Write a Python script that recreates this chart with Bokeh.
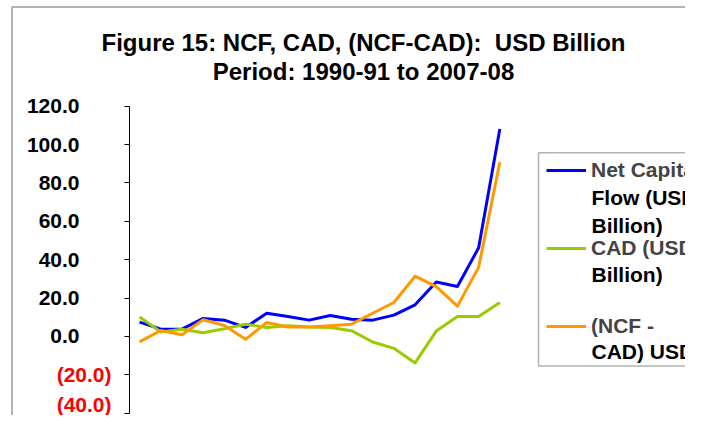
from bokeh.plotting import figure
from bokeh.models import (Range1d, FixedTicker, Label, LinearAxis,
                          Legend, LegendItem, BoxAnnotation)
from bokeh.embed import file_html
from bokeh.resources import INLINE

years = ["1990-91", "1991-92", "1992-93", "1993-94", "1994-95", "1995-96",
         "1996-97", "1997-98", "1998-99", "1999-00", "2000-01", "2001-02",
         "2002-03", "2003-04", "2004-05", "2005-06", "2006-07", "2007-08"]
ncf = [7.5, 3.8, 3.8, 9.4, 8.5, 4.7, 12.1, 10.4, 8.5, 10.9, 9.0, 8.5,
       11.1, 16.5, 28.4, 26.0, 46.2, 108.1]
cad = [10.2, 2.3, 3.8, 1.9, 4.0, 6.4, 4.7, 5.6, 4.9, 4.7, 3.0, -2.9,
       -6.2, -13.8, 2.8, 10.4, 10.4, 17.7]
ncf_minus_cad = [-2.8, 3.1, 0.9, 8.7, 5.7, -1.5, 7.3, 4.9, 4.9, 5.6, 6.4, 12.1,
                 17.7, 31.4, 26.0, 15.8, 36.0, 90.8]
pos_ticks = [0, 20, 40, 60, 80, 100, 120]
neg_ticks = [-40, -20]
neg_tick_labels = ["(40.0)", "(20.0)"]
title_lines = ["Figure 15: NCF, CAD, (NCF-CAD): \u00a0USD Billion",
               "Period: 1990-91 to 2007-08"]
series_first = ["Net Capital", "CAD (USD", "(NCF -"]
series_more = ["Flow (USD", "Billion)", "Billion)", "CAD) USD"]

FONT = "Liberation Sans"
W, H = 685, 415
PX_LEFT, PX_STEP = 128.5, 21.19
PY_TOP, PY_BOT = 105.7, 412.7
Y_MIN, Y_MAX = -40, 120
ypx = (PY_BOT - PY_TOP) / (Y_MAX - Y_MIN)

xs = list(range(len(years)))
x_start = -0.5 - PX_LEFT / PX_STEP
x_end = -0.5 + (W - PX_LEFT) / PX_STEP
y_start = Y_MIN - (H - PY_BOT) / ypx
y_end = Y_MAX + PY_TOP / ypx

p = figure(width=W, height=H,
           x_range=Range1d(x_start, x_end), y_range=Range1d(y_start, y_end),
           x_axis_location=None, y_axis_location=None,
           output_backend="svg", toolbar_location=None,
           min_border=0, min_border_left=0, min_border_right=0,
           min_border_top=0, min_border_bottom=0)
p.outline_line_color = None
p.grid.visible = False


def style_axis(a, standoff, color):
    a.major_tick_out = 5
    a.major_tick_in = 0
    a.minor_tick_line_color = None
    a.major_label_standoff = standoff
    a.major_label_text_font = FONT
    a.major_label_text_font_style = "bold"
    a.major_label_text_font_size = "21px"
    a.major_label_text_color = color


ax = LinearAxis(fixed_location=-0.5, bounds=(Y_MIN, Y_MAX),
                ticker=FixedTicker(ticks=neg_ticks + pos_ticks))
ax.major_label_overrides = {t: "" for t in neg_ticks + pos_ticks}
style_axis(ax, 5, "black")
ax.axis_line_color = "black"
ax.major_tick_line_color = "black"
p.add_layout(ax, "left")

ax1 = LinearAxis(fixed_location=-0.5 - 16.5 / PX_STEP, bounds=(Y_MIN, Y_MAX),
                 ticker=FixedTicker(ticks=pos_ticks))
ax1.major_label_overrides = {t: f"{t:.1f}" for t in pos_ticks}
style_axis(ax1, 28, "black")
ax1.axis_line_color = None
ax1.major_tick_line_color = None
p.add_layout(ax1, "left")

ax2 = LinearAxis(fixed_location=-0.5 - 1.5 / PX_STEP, bounds=(Y_MIN, Y_MAX),
                 ticker=FixedTicker(ticks=neg_ticks))
ax2.major_label_overrides = dict(zip(neg_ticks, neg_tick_labels))
style_axis(ax2, 11, "red")
ax2.axis_line_color = None
ax2.major_tick_line_color = None
p.add_layout(ax2, "left")

colors = ["#0000FF", "#99CC00", "#FF9900"]
renderers = []
for vals, c in zip([ncf, cad, ncf_minus_cad], colors):
    r = p.line(x=xs, y=vals, line_width=3, line_color=c, line_join="round")
    renderers.append(r)

# legend frame
LEG_L, LEG_T, LEG_B = 538, 152.3, 365.5
p.add_layout(BoxAnnotation(left=LEG_L, right=W + 50, bottom=H - LEG_B, top=H - LEG_T,
                           left_units="screen", right_units="screen",
                           bottom_units="screen", top_units="screen",
                           fill_color=None, line_color="black", line_width=1.5))

ITEM_H, ITEM_GAP, LEG_TOP_ITEMS = 26, 52, 157
legend = Legend(items=[LegendItem(label=l, renderers=[r]) for l, r in zip(series_first, renderers)],
                location=(546, H - (LEG_TOP_ITEMS + 3 * ITEM_H + 2 * ITEM_GAP)))
legend.label_text_font = FONT
legend.label_text_font_style = "bold"
legend.label_text_font_size = "21px"
legend.glyph_width = 40
legend.glyph_height = ITEM_H
legend.label_height = ITEM_H
legend.label_standoff = 5
legend.padding = 0
legend.margin = 0
legend.spacing = ITEM_GAP
legend.border_line_color = None
legend.background_fill_alpha = 0
p.add_layout(legend)

for t, base in zip(series_more, [197.4, 225.1, 274.1, 351.4]):
    p.add_layout(Label(x=591, y=H - base, x_units="screen", y_units="screen", text=t,
                       text_align="left", text_baseline="alphabetic",
                       text_font=FONT, text_font_style="bold", text_font_size="21px",
                       text_color="black"))

for t, yy in zip(title_lines, [42.1, 70.7]):
    p.add_layout(Label(x=363, y=H - yy, x_units="screen", y_units="screen", text=t,
                       text_align="center", text_baseline="alphabetic",
                       text_font=FONT, text_font_style="bold", text_font_size="24px",
                       text_color="black"))

p.add_layout(BoxAnnotation(left=11.5, right=W + 50, bottom=-50, top=H - 6.5,
                           left_units="screen", right_units="screen",
                           bottom_units="screen", top_units="screen",
                           fill_color=None, line_color="black", line_width=2))

open("out.html", "w").write(file_html(p, INLINE))
